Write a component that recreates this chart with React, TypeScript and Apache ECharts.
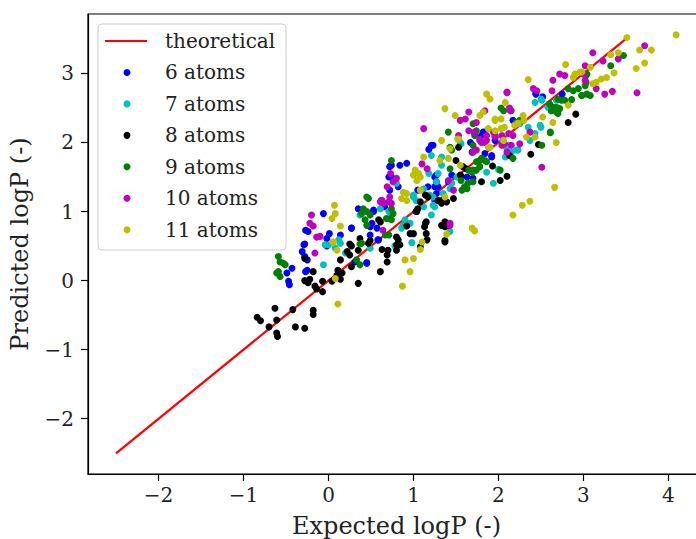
import React, { useEffect, useRef } from "react";
import * as echarts from "echarts";

const xTicks = [-2, -1, 0, 1, 2, 3, 4];
const yTicks = [-2, -1, 0, 1, 2, 3];
const theoreticalLine: number[][] = [[-2.5, -2.5], [3.5, 3.5]];

const atoms6: number[][] = [
  [-0.28, 0.53], [-0.31, 0.42], [-0.28, 0.35], [-0.25, 0.3], [-0.43, 0.18], [-0.49, 0.11], [-0.47, -0.01], [-0.46, -0.06],
  [-0.27, 0.13], [-0.25, 0.15], [-0.02, 0.5], [0.45, 0.26], [0.31, 0.27], [-0.06, 0.97], [-0.27, 0.73], [-0.24, 0.71],
  [0.01, 0.68], [-0.02, 0.61], [0.14, 0.66], [0.27, 0.76], [-0.29, 0.52], [0.35, 1.04], [0.57, 0.76], [0.59, 0.59],
  [0.71, 1.5], [0.53, 1.02], [0.74, 1.67], [0.84, 1.67], [0.92, 1.7], [1.21, 1.96], [1.25, 1.5], [1.27, 1.43], [1.25, 1.36],
  [0.53, 1.0], [0.49, 0.78], [1.69, 1.86], [1.63, 1.5], [1.23, 1.96], [1.18, 1.9], [1.82, 2.15], [1.67, 2.0], [1.96, 2.03],
  [2.44, 2.71], [1.84, 2.15], [2.17, 2.32], [1.92, 1.81], [1.84, 1.84], [1.96, 2.08], [2.52, 2.66], [2.75, 2.7],
  [0.72, 1.65], [0.74, 1.5], [0.72, 1.31], [0.82, 1.36], [1.05, 1.31], [1.17, 1.36], [1.27, 1.53], [1.29, 1.36], [1.27, 1.26],
  [1.25, 1.16], [1.45, 1.53], [1.41, 1.43], [1.7, 1.48], [1.92, 1.79], [1.72, 2.13], [1.8, 2.1], [2.44, 2.7], [0.62, 1.16],
  [0.66, 1.07], [0.27, 0.76], [0.49, 0.66], [0.58, 0.59], [0.45, 0.25], [0.51, 0.83],
];

const atoms7: number[][] = [
  [-0.06, 0.23], [-0.04, 0.52], [0.14, 0.54], [0.2, 0.4], [0.49, 0.47], [0.37, 0.95], [0.12, 0.59], [0.0, 0.52], [0.08, 0.47],
  [1.21, 1.81], [1.33, 1.79], [1.33, 1.67], [1.18, 1.55], [1.12, 1.33], [1.0, 1.21], [1.23, 1.21], [1.25, 1.07], [1.21, 0.95],
  [1.12, 1.07], [0.96, 0.83], [0.9, 0.88], [0.86, 0.76], [1.51, 1.5], [1.45, 1.41], [1.43, 1.33], [1.35, 1.26], [1.55, 2.0],
  [0.8, 1.41], [0.61, 1.04], [0.71, 1.0], [1.86, 1.57], [0.98, 0.55], [0.88, 0.8], [0.78, 0.5], [1.43, 0.71], [1.94, 1.41],
  [2.0, 1.61], [2.21, 1.89], [2.08, 1.79], [2.12, 1.96], [2.43, 2.58], [2.51, 2.61], [2.68, 2.61], [2.49, 2.25], [2.25, 2.27],
  [2.35, 2.22], [2.5, 2.22], [2.43, 2.13], [2.37, 2.03], [2.23, 1.89], [2.15, 1.86], [2.05, 2.03], [2.09, 1.93], [1.56, 1.98],
  [1.29, 1.55], [1.27, 1.43], [1.19, 1.24], [1.23, 1.09], [1.0, 1.24], [1.03, 1.16], [2.5, 2.63], [2.58, 2.51],
];

const atoms8: number[][] = [
  [-0.84, -0.53], [-0.8, -0.58], [-0.63, -0.4], [-0.61, -0.57], [-0.7, -0.67], [-0.61, -0.76], [-0.6, -0.81], [-0.42, -0.42],
  [-0.39, -0.67], [-0.28, -0.69], [-0.18, -0.43], [-0.18, -0.49], [-0.28, 0.0], [-0.22, 0.02], [-0.24, -0.03], [-0.18, 0.13],
  [-0.16, -0.08], [-0.14, -0.12], [-0.07, -0.16], [-0.07, -0.01], [0.04, -0.01], [0.1, 0.08], [0.16, 0.11], [0.14, 0.02],
  [-0.28, 0.32], [0.27, 0.5], [0.35, 0.44], [0.22, 0.42], [0.14, 0.3], [0.11, 0.15], [0.27, 0.2], [0.25, 0.37], [0.35, -0.04],
  [0.47, 0.54], [0.92, 0.79], [0.96, 0.68], [1.0, 0.68], [0.8, 0.52], [0.84, 0.52], [0.8, 0.44], [0.69, 0.37], [0.69, 0.27],
  [0.61, 0.13], [1.16, 0.59], [1.08, 0.49], [1.37, 0.58], [1.33, 0.8], [1.37, 0.78], [1.14, 0.83], [0.63, 0.45], [1.04, 1.0],
  [1.08, 1.14], [1.14, 1.24], [1.33, 1.16], [1.39, 1.14], [1.55, 1.53], [1.8, 1.43], [0.59, 0.88], [0.8, 0.63], [1.53, 1.93],
  [2.38, 1.83], [2.47, 1.97], [2.13, 1.81], [1.93, 1.66], [2.1, 1.51], [2.02, 1.45], [2.91, 2.41], [2.82, 2.29], [0.61, 0.85],
  [0.37, 0.61], [0.49, 0.58], [0.25, 0.53], [1.56, 1.51], [1.5, 1.74], [1.58, 1.65], [1.62, 1.62], [1.29, 1.16], [1.33, 1.12],
  [1.47, 1.19], [1.17, 1.21], [1.03, 1.0], [1.05, 1.04], [1.15, 0.85], [1.13, 0.78], [1.15, 0.68], [0.82, 0.59], [0.7, 0.44],
  [1.37, 0.85], [1.41, 0.8], [1.37, 0.56],
];

const atoms9: number[][] = [
  [-0.59, 0.35], [-0.57, 0.27], [-0.53, 0.25], [-0.51, 0.23], [-0.59, 0.13], [-0.61, 0.11], [-0.57, 0.06], [0.39, 0.54],
  [0.33, 0.3], [0.37, 0.23], [0.45, 1.21], [0.47, 1.19], [0.41, 1.04], [0.45, 1.0], [0.39, 0.97], [0.49, 0.95], [0.43, 0.88],
  [0.45, 0.8], [0.71, 0.66], [0.37, 0.53], [0.74, 1.74], [0.74, 1.04], [0.76, 0.97], [0.72, 0.9], [1.43, 1.93], [1.45, 1.89],
  [1.43, 1.62], [1.65, 1.6], [1.69, 1.57], [1.74, 1.6], [1.63, 1.33], [1.57, 1.31], [0.67, 0.66], [1.7, 1.96], [1.41, 2.15],
  [1.7, 2.27], [1.74, 2.17], [1.72, 2.1], [2.61, 2.14], [2.51, 1.96], [2.02, 1.6], [2.17, 1.77], [1.78, 1.74], [1.86, 1.72],
  [2.61, 2.54], [2.64, 2.51], [2.68, 2.44], [2.72, 2.49], [2.82, 2.78], [2.88, 2.75], [2.94, 2.78], [2.98, 2.68], [3.04, 2.7],
  [2.61, 2.15], [2.06, 2.46], [2.21, 2.29], [2.25, 2.32], [3.47, 3.26], [3.32, 3.11], [3.04, 2.99], [3.02, 2.82], [2.98, 2.68],
  [3.08, 2.68], [0.68, 0.9], [0.74, 0.88], [2.03, 2.5], [2.15, 2.46], [1.74, 1.72], [1.8, 1.77], [1.84, 1.74], [1.78, 1.65],
  [1.7, 1.6], [1.56, 1.45], [1.6, 1.36], [1.64, 1.41], [1.7, 1.43], [2.62, 2.46], [2.68, 2.51], [2.74, 2.61], [2.7, 2.63],
  [2.78, 2.61], [2.6, 2.56], [2.7, 2.42], [2.86, 2.62], [3.03, 2.97], [3.03, 2.87],
];

const atoms10: number[][] = [
  [-0.16, 0.4], [-0.2, 0.95], [-0.22, 0.83], [-0.18, 0.79], [-0.14, 0.63], [-0.1, 0.64], [0.63, 1.16], [0.71, 1.14], [0.64, 0.73],
  [0.73, 1.55], [0.8, 1.48], [0.76, 1.43], [0.69, 1.36], [1.1, 1.69], [1.16, 1.62], [1.7, 1.86], [1.74, 1.89], [1.47, 1.31],
  [0.61, 1.14], [0.65, 1.12], [1.43, 0.83], [1.12, 2.2], [1.65, 2.44], [1.55, 2.32], [1.61, 2.34], [1.74, 2.29], [1.84, 2.46],
  [1.65, 2.17], [1.53, 2.1], [1.94, 2.15], [1.96, 2.08], [1.78, 2.05], [1.84, 2.0], [1.78, 2.03], [1.86, 2.1], [1.96, 2.1],
  [2.04, 2.1], [2.12, 2.13], [2.17, 2.1], [2.25, 1.98], [2.04, 1.96], [2.1, 1.86], [2.51, 1.64], [2.41, 2.78], [2.45, 2.75],
  [2.64, 2.9], [2.72, 2.99], [2.78, 2.97], [3.0, 2.99], [2.1, 2.73], [2.14, 2.46], [2.63, 2.75], [3.11, 3.3], [3.02, 3.11],
  [3.23, 3.18], [3.41, 3.21], [3.72, 3.4], [3.02, 2.9], [3.15, 2.78], [3.25, 2.7], [3.34, 2.74], [3.63, 2.72], [1.43, 0.8],
  [2.1, 2.72], [2.13, 2.5], [1.72, 2.15], [1.8, 2.0], [1.86, 2.03], [2.07, 1.98], [2.15, 1.96], [2.37, 2.15], [0.72, 1.21],
  [0.74, 1.12], [1.41, 1.45],
];

const atoms11: number[][] = [
  [0.1, 0.44], [0.06, 0.56], [0.08, 0.03], [0.11, -0.34], [0.07, 1.09], [0.08, 0.97], [0.04, 0.9], [0.14, 0.79], [0.05, 0.56],
  [1.02, 1.6], [1.06, 1.55], [1.08, 1.5], [1.0, 1.53], [1.04, 1.45], [0.88, 1.28], [0.92, 1.26], [0.86, 1.19], [0.92, 1.16],
  [1.12, 1.79], [1.41, 1.77], [1.55, 1.67], [1.37, 1.21], [1.69, 0.76], [1.72, 0.72], [1.08, 1.31], [1.37, 2.49], [1.49, 2.39],
  [1.78, 2.39], [1.82, 2.44], [1.86, 2.7], [1.9, 2.63], [1.33, 2.03], [1.53, 2.05], [1.88, 2.2], [1.96, 2.34], [2.68, 2.0],
  [2.66, 1.35], [2.37, 1.15], [2.28, 1.09], [2.17, 0.95], [2.43, 2.08], [2.33, 2.08], [1.9, 1.93], [2.06, 2.03], [2.79, 3.13],
  [2.35, 2.91], [2.08, 2.58], [2.29, 2.39], [2.82, 2.54], [2.96, 3.02], [2.64, 2.29], [3.51, 3.52], [4.09, 3.56], [3.66, 3.34],
  [3.8, 3.34], [3.72, 3.15], [3.62, 3.07], [3.32, 3.27], [3.41, 3.3], [3.08, 3.09], [2.98, 3.02], [3.36, 3.01], [3.27, 2.94],
  [3.21, 2.92], [3.15, 2.87], [3.11, 2.85], [0.9, 0.3], [1.0, 0.32], [0.96, 0.13], [0.87, -0.08], [1.08, 0.45], [1.1, 0.56],
  [1.39, 0.67], [2.88, 2.94], [2.9, 2.99], [2.52, 2.37], [2.3, 2.32], [2.19, 2.25], [2.23, 2.28], [2.07, 2.22], [1.96, 2.32],
  [2.03, 2.34], [1.96, 2.17], [2.03, 2.2], [1.88, 1.93], [1.52, 2.05], [1.43, 1.91], [1.31, 1.74],
];

const seriesNames = ["6 atoms", "7 atoms", "8 atoms", "9 atoms", "10 atoms", "11 atoms"];
const seriesData = [atoms6, atoms7, atoms8, atoms9, atoms10, atoms11];
const seriesColors = ["#0000ff", "#00bfbf", "#000000", "#008000", "#bf00bf", "#bfbf00"];
const lineName = "theoretical";
const lineColor = "#ff0000";

const FONT = "DejaVu Serif";

function fmt(v: number): string {
  return v < 0 ? "\u2212" + Math.abs(v) : String(v);
}

export default function App() {
  const ref = useRef<HTMLDivElement>(null);
  useEffect(() => {
    if (!ref.current) return;
    const chart = echarts.init(ref.current, null, { renderer: "svg" });

    const legendX = 98;
    const legendY = 24;
    const rowGap = 31.45;
    const firstRow = 41;
    const legendChildren: any[] = [
      {
        type: "rect",
        shape: { x: legendX, y: legendY, width: 188, height: 226, r: 4 },
        style: { fill: "rgba(255,255,255,0.8)", stroke: "#cccccc", lineWidth: 1 },
      },
      {
        type: "line",
        shape: { x1: 105, y1: firstRow, x2: 147, y2: firstRow },
        style: { stroke: lineColor, lineWidth: 2.2 },
      },
      {
        type: "text",
        x: 165,
        y: firstRow,
        style: { text: lineName, font: `20px '${FONT}'`, fill: "#222", verticalAlign: "middle", align: "left" },
      },
    ];
    seriesNames.forEach((n, i) => {
      const cy = firstRow + rowGap * (i + 1);
      legendChildren.push({
        type: "circle",
        shape: { cx: 127, cy, r: 3.5 },
        style: { fill: seriesColors[i] },
      });
      legendChildren.push({
        type: "text",
        x: 165,
        y: cy,
        style: { text: n, font: `20px '${FONT}'`, fill: "#222", verticalAlign: "middle", align: "left" },
      });
    });

    const option: any = {
      animation: false,
      backgroundColor: "#ffffff",
      grid: {
        left: 88,
        top: 14,
        width: 617,
        height: 460,
        show: true,
        borderColor: "#000",
        borderWidth: 1.2,
        containLabel: false,
        outerBoundsMode: "none",
      },
      xAxis: {
        type: "value",
        min: -2.83,
        max: 4.43,
        splitLine: { show: false },
        axisLine: { show: true, onZero: false, lineStyle: { color: "#000", width: 1.2 } },
        axisTick: { show: true, inside: false, length: 7, customValues: xTicks, lineStyle: { color: "#000", width: 1.2 } },
        axisLabel: {
          customValues: xTicks,
          formatter: fmt,
          fontFamily: FONT,
          fontSize: 20,
          color: "#222",
          margin: 11,
        },
        name: "Expected logP (-)",
        nameLocation: "middle",
        nameGap: 40,
        nameTextStyle: { fontFamily: FONT, fontSize: 24, color: "#222" },
      },
      yAxis: {
        type: "value",
        min: -2.8,
        max: 3.86,
        splitLine: { show: false },
        axisLine: { show: true, onZero: false, lineStyle: { color: "#000", width: 1.2 } },
        axisTick: { show: true, inside: false, length: 7, customValues: yTicks, lineStyle: { color: "#000", width: 1.2 } },
        axisLabel: {
          customValues: yTicks,
          formatter: fmt,
          fontFamily: FONT,
          fontSize: 20,
          color: "#222",
          margin: 14,
        },
        name: "Predicted logP (-)",
        nameLocation: "middle",
        nameGap: 56,
        nameTextStyle: { fontFamily: FONT, fontSize: 24, color: "#222" },
      },
      series: [
        {
          name: lineName,
          type: "line",
          data: theoreticalLine,
          symbol: "none",
          lineStyle: { color: lineColor, width: 2.2 },
          z: 1,
        },
        ...seriesNames.map((n, i) => ({
          name: n,
          type: "scatter",
          data: seriesData[i],
          symbol: "circle",
          symbolSize: 7,
          itemStyle: { color: seriesColors[i], opacity: 1 },
          z: 2 + i,
        })),
      ],
      graphic: [{ type: "group", z: 100, children: legendChildren }],
    };
    chart.setOption(option);
    return () => chart.dispose();
  }, []);

  return (
    <div
      ref={ref}
      style={{ position: "fixed", left: 0, top: 0, width: 696, height: 539, background: "#fff" }}
    />
  );
}
